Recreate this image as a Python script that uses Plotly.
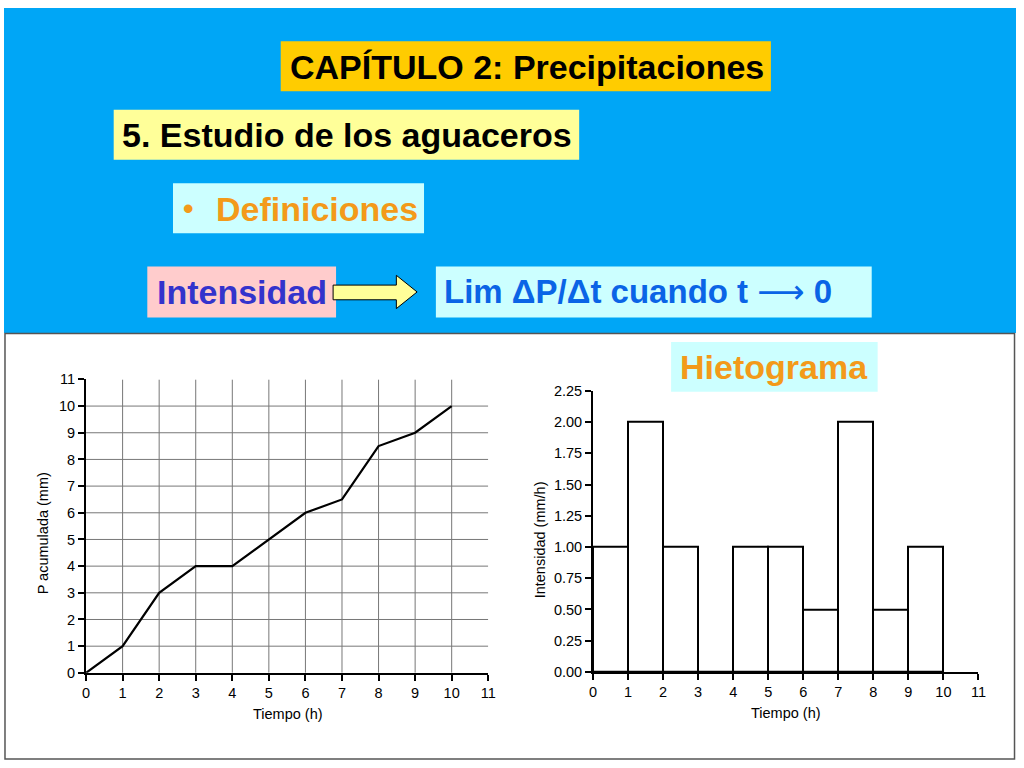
import plotly.graph_objects as go

# ---------------- data ----------------
tiempo_h = [0, 1, 2, 3, 4, 5, 6, 7, 8, 9, 10]
p_acumulada_mm = [0, 1, 3, 4, 4, 5, 6, 6.5, 8.5, 9, 10]

intervalo_inicio_h = [0, 1, 2, 3, 4, 5, 6, 7, 8, 9]
intensidad_mm_h = [1.0, 2.0, 1.0, 0.0, 1.0, 1.0, 0.5, 2.0, 0.5, 1.0]

x_ticks = list(range(0, 12))
y1_ticks = list(range(0, 12))
y2_ticks = [0.0, 0.25, 0.5, 0.75, 1.0, 1.25, 1.5, 1.75, 2.0, 2.25]

titulo = "CAPÍTULO 2: Precipitaciones"
subtitulo = "5. Estudio de los aguaceros"
apartado = "Definiciones"
concepto = "Intensidad"
definicion_a = "Lim ΔP/Δt cuando t"
definicion_flecha = "⟶"
definicion_b = "0"
grafico2_titulo = "Hietograma"

# ---------------- layout helpers ----------------
W, H = 1024, 768
FONT = "Liberation Sans, Arial, Helvetica, sans-serif"


def px(x):
    return x / W


def py(y):
    return 1 - y / H


BLUE = "#00A6F6"
ORANGE = "#F39A1A"

fig = go.Figure()

fig.add_trace(go.Scatter(
    x=tiempo_h, y=p_acumulada_mm, mode="lines",
    line=dict(color="black", width=2.2),
    xaxis="x", yaxis="y", showlegend=False, hoverinfo="x+y",
))

fig.add_trace(go.Bar(
    x=[s + 0.5 for s in intervalo_inicio_h], y=intensidad_mm_h, width=1,
    marker=dict(color="white", line=dict(color="black", width=2)),
    xaxis="x2", yaxis="y2", showlegend=False,
))

shapes = []
shapes.append(dict(type="rect", xref="paper", yref="paper",
                   x0=0, x1=1, y0=py(332), y1=1,
                   fillcolor=BLUE, line=dict(width=0), layer="below"))
shapes.append(dict(type="rect", xref="paper", yref="paper",
                   x0=px(1), x1=px(1022.5), y0=py(767), y1=py(332.5),
                   fillcolor="rgba(0,0,0,0)", line=dict(color="#555555", width=1.5),
                   layer="below"))

boxes = [
    (280, 776, 34, 85, "#FFCC00"),
    (111, 582, 104, 155, "#FFFF99"),
    (171, 425, 179, 230, "#CCFFFF"),
    (145, 336, 264, 316, "#FFCCCC"),
    (437, 878, 264, 316, "#CCFFFF"),
    (675, 884, 341, 392, "#CCFFFF"),
]
for x0, x1, y0, y1, c in boxes:
    shapes.append(dict(type="rect", xref="paper", yref="paper",
                       x0=px(x0), x1=px(x1), y0=py(y1), y1=py(y0),
                       fillcolor=c, line=dict(width=0), layer="below"))

arrow_pts = [(333, 283), (397, 283), (397, 273), (418, 290), (397, 307), (397, 298), (333, 298)]
path = "M " + " L ".join(f"{px(a):.5f},{py(b):.5f}" for a, b in arrow_pts) + " Z"
shapes.append(dict(type="path", xref="paper", yref="paper", path=path,
                   fillcolor="#FFFF99", line=dict(color="black", width=1)))

for v in x_ticks[1:-1]:
    shapes.append(dict(type="line", xref="x", yref="y", x0=v, x1=v,
                       y0=y1_ticks[0], y1=y1_ticks[-1],
                       line=dict(color="#777777", width=1), layer="below"))
for v in y1_ticks[1:-1]:
    shapes.append(dict(type="line", xref="x", yref="y", x0=x_ticks[0], x1=x_ticks[-1],
                       y0=v, y1=v,
                       line=dict(color="#777777", width=1), layer="below"))

definicion_html = (f"<b>{definicion_a}</b> "
                   f"<span style=\"font-family:'DejaVu Sans'\">{definicion_flecha}</span>"
                   f" <b>{definicion_b}</b>")

annotations = [
    dict(text=f"<b>{titulo}</b>", x=px(529), y=py(60), font=dict(size=34, color="black")),
    dict(text=f"<b>{subtitulo}</b>", x=px(347), y=py(130), font=dict(size=34, color="black")),
    dict(text="<b>•</b>", x=px(187), y=py(205), font=dict(size=30, color=ORANGE)),
    dict(text=f"<b>{apartado}</b>", x=px(212), y=py(205), xanchor="left", font=dict(size=34, color=ORANGE)),
    dict(text=f"<b>{concepto}</b>", x=px(241), y=py(290), font=dict(size=34, color="#3333CC")),
    dict(text=definicion_html, x=px(443), y=py(290), xanchor="left", font=dict(size=33, color="#0A64E6")),
    dict(text=f"<b>{grafico2_titulo}</b>", x=px(779.5), y=py(367), font=dict(size=34, color=ORANGE)),
    dict(text="Tiempo (h)", x=px(287), y=py(721), font=dict(size=14.5, color="black")),
    dict(text="P acumulada (mm)", x=px(39), y=py(537), textangle=-90, font=dict(size=14.5, color="black")),
    dict(text="Tiempo (h)", x=px(791), y=py(720), font=dict(size=14.5, color="black")),
    dict(text="Intensidad (mm/h)", x=px(542), y=py(543), textangle=-90, font=dict(size=14.5, color="black")),
]
for a in annotations:
    a.setdefault("xref", "paper")
    a.setdefault("yref", "paper")
    a.setdefault("xanchor", "center")
    a.setdefault("yanchor", "middle")
    a.setdefault("showarrow", False)
    a["font"].setdefault("family", FONT)

axis_common = dict(showline=True, linecolor="black", linewidth=2, ticks="outside",
                   ticklen=6, tickwidth=1.5, tickcolor="black", showgrid=False,
                   zeroline=False, tickfont=dict(family=FONT, size=14.5, color="black"),
                   fixedrange=True)

fig.update_layout(
    width=W, height=H,
    margin=dict(l=0, r=0, t=0, b=0),
    paper_bgcolor="white", plot_bgcolor="rgba(0,0,0,0)",
    font=dict(family=FONT),
    shapes=shapes, annotations=annotations,
    xaxis=dict(domain=[px(83), px(490)], range=[0, 11], tickvals=x_ticks,
               anchor="y", **axis_common),
    yaxis=dict(domain=[py(679), py(379.3)], range=[0, 11], tickvals=y1_ticks,
               anchor="x", **axis_common),
    xaxis2=dict(domain=[px(596), px(986)], range=[0, 11], tickvals=x_ticks,
                anchor="y2", **axis_common),
    yaxis2=dict(domain=[py(678), py(391)], range=[0, 2.25], tickvals=y2_ticks,
                tickformat=".2f", anchor="x2", **axis_common),
    bargap=0,
)

fig.write_html(
    "out.html",
    config={"displayModeBar": False},
    post_script="document.documentElement.style.margin='0';"
                "document.documentElement.style.padding='0';"
                "document.documentElement.style.overflow='hidden';"
                "document.body.style.margin='0';document.body.style.padding='0';"
                "document.body.style.overflow='hidden';",
)
